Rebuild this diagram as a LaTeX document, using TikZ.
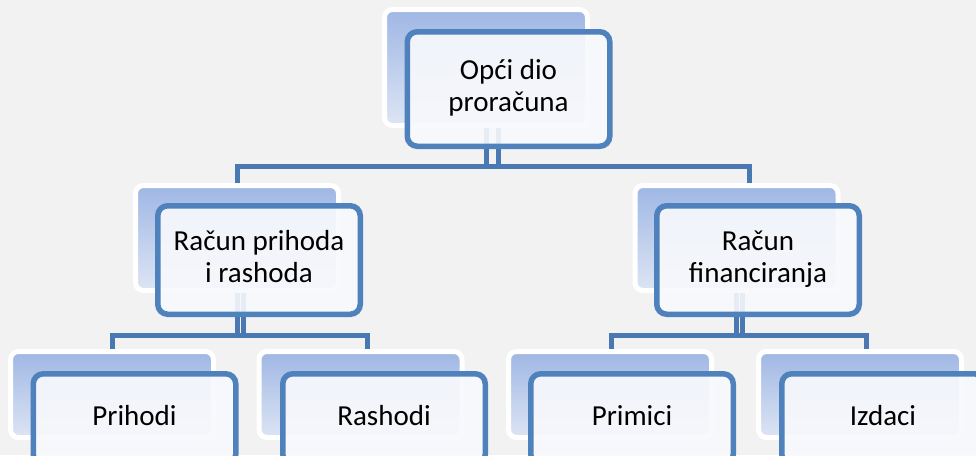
\documentclass[tikz,border=0pt]{standalone}
\usepackage{fontspec}
\setmainfont{Carlito}
\definecolor{bg}{HTML}{F2F2F2}
\definecolor{acc}{HTML}{4F81BD}
\definecolor{conncol}{HTML}{4A78B2}
\definecolor{backtop}{HTML}{9FB7E4}
\definecolor{backbot}{HTML}{DDE5F4}
\definecolor{frontfill}{HTML}{F8F9FC}
\tikzset{
  backcard/.style={rectangle, rounded corners=8pt, draw=white, line width=5pt,
    top color=backtop, bottom color=backbot, inner sep=0pt, minimum width=203pt},
  frontcard/.style={rectangle, rounded corners=10pt, draw=acc, line width=5.5pt,
    fill=frontfill, fill opacity=0.9, text opacity=1, draw opacity=1, inner sep=0pt,
    align=center, font=\fontsize{29}{31.5}\selectfont, minimum width=202.5pt},
  conn/.style={draw=conncol, line width=5pt, line join=miter},
}
\begin{document}
\begin{tikzpicture}[x=1pt,y=-1pt]
\useasboundingbox (0,0) rectangle (976,455);
\clip (0,0) rectangle (976,455);
\fill[bg] (0,0) rectangle (976,455);

% back cards
\node[backcard, minimum height=116pt] (topb) at (486,67.5) {};
\node[backcard, minimum height=105pt] (lmb) at (237,238) {};
\node[backcard, minimum height=105pt] (rmb) at (736.5,238) {};
\node[backcard, minimum height=86pt] (b1b) at (112,394.5) {};
\node[backcard, minimum height=86pt] (b2b) at (360.5,394.5) {};
\node[backcard, minimum height=86pt] (b3b) at (610,394.5) {};
\node[backcard, minimum height=86pt] (b4b) at (860,394.5) {};

% connector coordinates
\coordinate (tA) at (topb.south);
\coordinate (tB) at ([xshift=12pt]topb.south);
\coordinate (barL) at (237,166);
\coordinate (barR) at (749,166);
\coordinate (lmIn) at (237,182.5);
\coordinate (rmIn) at (749,182.5);
\coordinate (lA) at (lmb.south);
\coordinate (lB) at ([xshift=6.5pt]lmb.south);
\coordinate (rA) at (rmb.south);
\coordinate (rB) at ([xshift=6pt]rmb.south);
\coordinate (lbarL) at (112,335);
\coordinate (lbarR) at (367.5,335);
\coordinate (rbarL) at (611,335);
\coordinate (rbarR) at (866.5,335);
\coordinate (c1) at (112,349);
\coordinate (c2) at (367.5,349);
\coordinate (c3) at (611,349);
\coordinate (c4) at (866.5,349);

% connectors
\draw[conn] (tA) -- (tA |- barL);
\draw[conn] (tB) -- (tB |- barL);
\draw[conn] (lmIn) -- (barL) -- (barR) -- (rmIn);
\draw[conn] (lA) -- (lA |- lbarL);
\draw[conn] (lB) -- (lB |- lbarL);
\draw[conn] (c1) -- (lbarL) -- (lbarR) -- (c2);
\draw[conn] (rA) -- (rA |- rbarL);
\draw[conn] (rB) -- (rB |- rbarL);
\draw[conn] (c3) -- (rbarL) -- (rbarR) -- (c4);

% front cards
\node[frontcard, minimum height=114.5pt] (top) at (508.5,89) {\strut Opći dio\\proračuna\strut};
\node[frontcard, minimum height=108.5pt] (lm) at (259,260) {\strut Račun prihoda\\i rashoda\strut};
\node[frontcard, minimum height=108.5pt] (rm) at (758,260) {\strut Račun\\financiranja\strut};
\node[frontcard, minimum height=90.5pt] (b1) at (134.5,419) {\strut Prihodi};
\node[frontcard, minimum height=90.5pt] (b2) at (384,419) {\strut Rashodi};
\node[frontcard, minimum height=90.5pt] (b3) at (632,419) {\strut Primici};
\node[frontcard, minimum height=90.5pt] (b4) at (883,419) {\strut Izdaci};
\end{tikzpicture}
\end{document}
